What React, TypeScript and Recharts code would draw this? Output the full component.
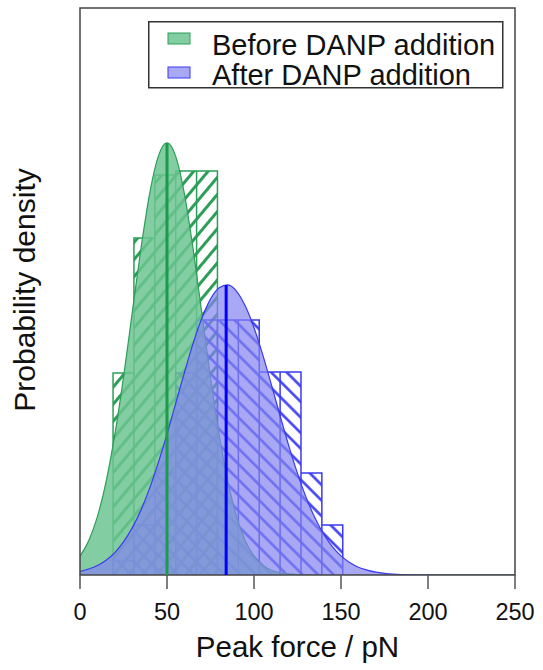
import React from "react";
import {
  ComposedChart, Area, Line, XAxis, YAxis, ReferenceArea, Legend,
} from "recharts";

// histogram bins (pN) shared by both runs
const binEdges = [7, 19, 31, 43, 55, 67, 79, 91, 103, 115, 127, 139, 151];
const beforeHist = [0, 0.00982, 0.01638, 0.01944, 0.01964, 0.01964, 0, 0, 0, 0, 0, 0];
const afterHist = [0, 0.0007, 0.00243, 0.00496, 0.00982, 0.0124, 0.0124, 0.0124, 0.00987, 0.00987, 0.00496, 0.00243];

// fitted densities, read every 5 pN
const curveX = [
  0, 5, 10, 15, 20, 25, 30, 35, 40, 45, 50, 55, 60, 65, 70, 75, 80, 85, 90, 95, 100,
  105, 110, 115, 120, 125, 130, 135, 140, 145, 150, 155, 160, 165, 170, 175, 180, 185,
  190, 195, 200, 205, 210, 215, 220, 225, 230, 235, 240, 245, 250,
];
const beforeFit = [
  0.00092, 0.00167, 0.00284, 0.00454, 0.00682, 0.00961, 0.01274, 0.01585, 0.01853, 0.02035, 0.021,
  0.02035, 0.01853, 0.01585, 0.01274, 0.00961, 0.00682, 0.00454, 0.00284, 0.00167, 0.00092,
  0.00048, 0.00023, 0.00011, 0.00005, 0.00002, 0.00001, 0, 0, 0, 0, 0, 0, 0, 0, 0, 0, 0,
  0, 0, 0, 0, 0, 0, 0, 0, 0, 0, 0, 0, 0,
];
const afterFit = [
  0.00017, 0.00029, 0.00046, 0.00072, 0.00109, 0.00161, 0.00229, 0.00315, 0.00421, 0.00546, 0.00685,
  0.00834, 0.00984, 0.01126, 0.01248, 0.01341, 0.01396, 0.0141, 0.01379, 0.01307, 0.01202,
  0.01071, 0.00925, 0.00774, 0.00628, 0.00494, 0.00376, 0.00278, 0.00199, 0.00138, 0.00093,
  0.00061, 0.00038, 0.00024, 0.00014, 0.00008, 0.00004, 0.00002, 0.00001, 0, 0,
  0, 0, 0, 0, 0, 0, 0, 0, 0, 0,
];

const beforeMean = 50;
const afterMean = 84;
const afterPeak = 0.0141;
const xTicks = [0, 50, 100, 150, 200, 250];

const GREEN = "#2c9e58";
const GREEN_FILL = "#6cc490";
const BLUE = "#3a3af2";
const BLUE_FILL = "#8383f1";
const FONT = "'Liberation Sans', Arial, Helvetica, sans-serif";

// outline path of a histogram: up, across, down for every bin
function histPath(heights: number[]) {
  const pts: { x: number; y: number }[] = [];
  heights.forEach((h, i) => {
    if (h <= 0) return;
    pts.push({ x: binEdges[i], y: 0 }, { x: binEdges[i], y: h }, { x: binEdges[i + 1], y: h }, { x: binEdges[i + 1], y: 0 });
  });
  return pts;
}

const fitData = curveX.map((x, i) => ({ x, before: beforeFit[i], after: afterFit[i] }));
const beforeLine = [{ x: beforeMean, y: 0 }, { x: beforeMean, y: beforeFit[curveX.indexOf(beforeMean)] }];
const afterLine = [{ x: afterMean, y: 0 }, { x: afterMean, y: afterPeak }];

function LegendBox() {
  return (
    <svg width={356} height={68} style={{ display: "block", overflow: "visible" }}>
      <rect x={0.75} y={0.75} width={354} height={66} fill="#fff" stroke="#333" strokeWidth={1.5} />
      <rect x={20} y={12} width={22} height={11} fill={GREEN_FILL} fillOpacity={0.85} stroke={GREEN} />
      <text x={64} y={34} fontSize={29} fontFamily={FONT} fill="#111">Before DANP addition</text>
      <rect x={20} y={46} width={22} height={11} fill={BLUE_FILL} fillOpacity={0.7} stroke={BLUE} />
      <text x={64} y={64} fontSize={29} fontFamily={FONT} fill="#111">After DANP addition</text>
    </svg>
  );
}

export default function App() {
  return (
    <div style={{ position: "absolute", left: 0, top: 0, width: 543, height: 670, background: "#fff" }}>
      <ComposedChart width={543} height={670} data={fitData} margin={{ top: 8, right: 28, left: 80, bottom: 0 }}>
        <defs>
          <pattern id="hatchGreen" width={11} height={11} patternUnits="userSpaceOnUse" patternTransform="rotate(40)">
            <line x1={5.5} y1={0} x2={5.5} y2={11} stroke={GREEN} strokeWidth={3} />
          </pattern>
          <pattern id="hatchBlue" width={11} height={11} patternUnits="userSpaceOnUse" patternTransform="rotate(-45)">
            <line x1={5.5} y1={0} x2={5.5} y2={11} stroke={BLUE} strokeWidth={2.5} />
          </pattern>
        </defs>
        <XAxis
          dataKey="x" type="number" domain={[0, 250]} ticks={xTicks} interval={0} allowDataOverflow
          height={95} axisLine={false} tickSize={14} tickMargin={14}
          tickLine={{ stroke: "#555", strokeWidth: 1.5 }}
          tick={{ fontSize: 23.5, fill: "#111", fontFamily: FONT }}
          label={{ value: "Peak force / pN", position: "insideBottom", offset: 13, fontSize: 29.5, fill: "#111", fontFamily: FONT }}
        />
        <YAxis hide type="number" domain={[0, 0.02756]} allowDataOverflow />
        <Area data={histPath(beforeHist)} dataKey="y" type="linear" fill="url(#hatchGreen)" fillOpacity={1}
          stroke={GREEN} strokeWidth={1.5} isAnimationActive={false} dot={false} activeDot={false} />
        <Area data={histPath(afterHist)} dataKey="y" type="linear" fill="url(#hatchBlue)" fillOpacity={1}
          stroke={BLUE} strokeWidth={1.5} isAnimationActive={false} dot={false} activeDot={false} />
        <Area dataKey="before" type="monotone" fill={GREEN_FILL} fillOpacity={0.85} stroke={GREEN} strokeWidth={1.2}
          isAnimationActive={false} dot={false} activeDot={false} />
        <Area dataKey="after" type="monotone" fill={BLUE_FILL} fillOpacity={0.7} stroke={BLUE} strokeWidth={1.2}
          isAnimationActive={false} dot={false} activeDot={false} />
        <Line data={beforeLine} dataKey="y" stroke="#1d9a4c" strokeWidth={3} dot={false} activeDot={false}
          isAnimationActive={false} />
        <Line data={afterLine} dataKey="y" stroke="#0000ff" strokeWidth={3} dot={false} activeDot={false}
          isAnimationActive={false} />
        <ReferenceArea x1={0} x2={250} y1={0} y2={0.02756} fill="none" stroke="#444" strokeWidth={1.5}
          ifOverflow="visible" />
        <Legend
          layout="vertical" align="center" verticalAlign="middle"
          wrapperStyle={{ left: 148, top: 21, width: 356, height: 68 }}
          content={() => <LegendBox />}
        />
      </ComposedChart>
      <svg width={543} height={670} style={{ position: "absolute", left: 0, top: 0, pointerEvents: "none" }}>
        <text transform="translate(35,290) rotate(-90)" textAnchor="middle" fontSize={30} fontFamily={FONT} fill="#111">
          Probability density
        </text>
      </svg>
    </div>
  );
}
